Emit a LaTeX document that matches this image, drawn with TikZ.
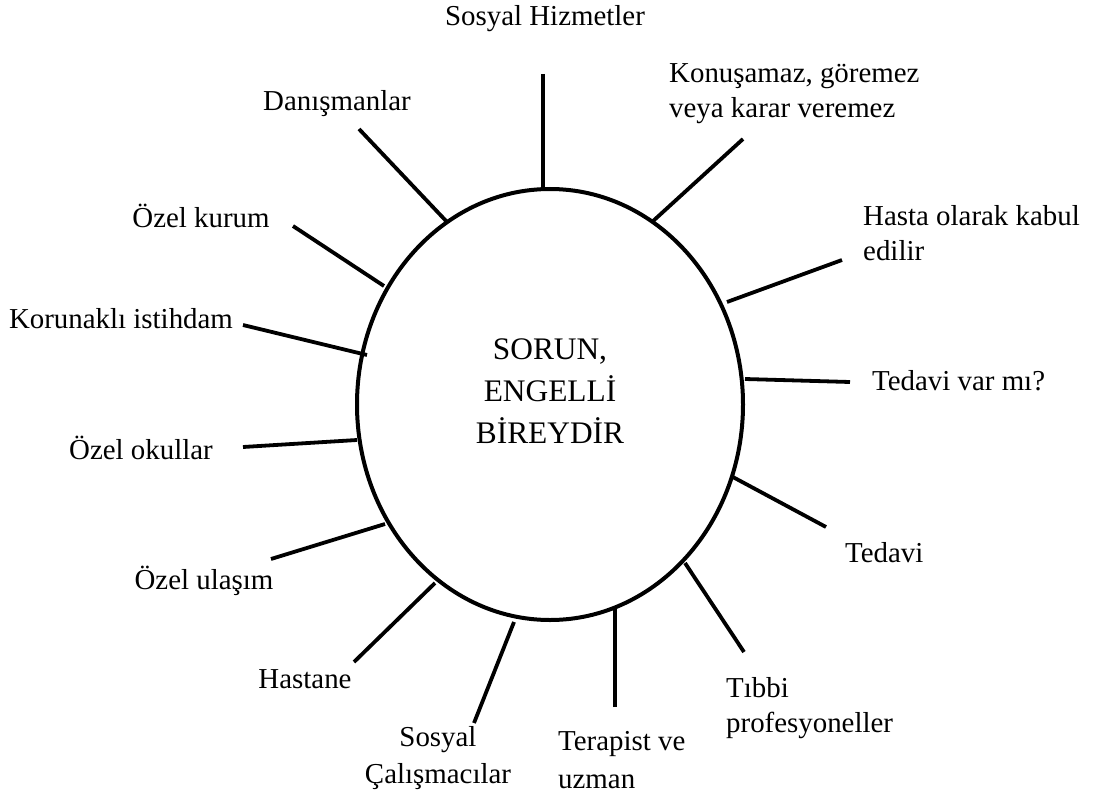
\documentclass[tikz,border=0pt]{standalone}
\usepackage{fontspec}
\setmainfont{Liberation Serif}
\usetikzlibrary{shapes.geometric}
\begin{document}
\begin{tikzpicture}[x=1bp,y=-1bp,
  lbl/.style={font=\fontsize{29}{35}\selectfont, inner sep=0pt},
  spoke/.style={line width=3.8bp},
  hub/.style={ellipse, draw, line width=4bp, minimum width=386bp, minimum height=431bp, inner sep=0pt}]
\useasboundingbox (0,0) rectangle (1093,794);
\fill[white] (0,0) rectangle (1093,794);
% hub
\node[hub] (E) at (550,404.5) {};
\node[font=\fontsize{31.5}{42}\selectfont, align=center, inner sep=0pt] (core) at (550,391) {SORUN,\\ENGELLİ\\BİREYDİR};
% labels
\node[lbl] (sh) at (545,19) {Sosyal Hizmetler};
\node[lbl, anchor=west, align=left] (kon) at (669,94) {Konuşamaz, göremez\\veya karar veremez};
\node[lbl, anchor=west, align=left] (has) at (863,233) {Hasta olarak kabul\\edilir};
\node[lbl, anchor=west] (tvm) at (872,381) {Tedavi var mı?};
\node[lbl, anchor=west] (ted) at (845,553) {Tedavi};
\node[lbl, anchor=west, align=left] (tib) at (726,708) {Tıbbi\\profesyoneller};
\node[lbl, anchor=west, align=left, font=\fontsize{29}{38}\selectfont] (ter) at (558,760) {Terapist ve\\uzman};
\node[lbl, align=center, font=\fontsize{29}{37}\selectfont] (soc) at (438,758) {Sosyal\\Çalışmacılar};
\node[lbl] (hst) at (305,679) {Hastane};
\node[lbl] (ula) at (204,581) {Özel ulaşım};
\node[lbl] (oko) at (141,448) {Özel okullar};
\node[lbl] (kor) at (121,319) {Korunaklı istihdam};
\node[lbl] (kur) at (201,216) {Özel kurum};
\node[lbl] (dan) at (337,104) {Danışmanlar};
% spoke ends
\coordinate (shO) at (543,74);   \coordinate (shI) at (543,189);
\coordinate (konO) at (743,139); \coordinate (konI) at (652,222);
\coordinate (hasO) at (842,260); \coordinate (hasI) at (727,302);
\coordinate (tvmO) at (850,382); \coordinate (tvmI) at (745,379);
\coordinate (tedO) at (826,527); \coordinate (tedI) at (731,476);
\coordinate (tibO) at (744,652); \coordinate (tibI) at (685,563);
\coordinate (terO) at (615,707); \coordinate (terI) at (615,608);
\coordinate (socO) at (474,723); \coordinate (socI) at (514,622);
\coordinate (hstO) at (354,662); \coordinate (hstI) at (435,583);
\coordinate (ulaO) at (271,559); \coordinate (ulaI) at (385,524);
\coordinate (okoO) at (243,447); \coordinate (okoI) at (357,440);
\coordinate (korO) at (243,325); \coordinate (korI) at (367,355);
\coordinate (kurO) at (293,226); \coordinate (kurI) at (384,286);
\coordinate (danO) at (359,129); \coordinate (danI) at (448,223);
\foreach \s in {sh,kon,has,tvm,ted,tib,ter,soc,hst,ula,oko,kor,kur,dan}
  \draw[spoke] (\s O) -- (\s I);
\end{tikzpicture}
\end{document}
